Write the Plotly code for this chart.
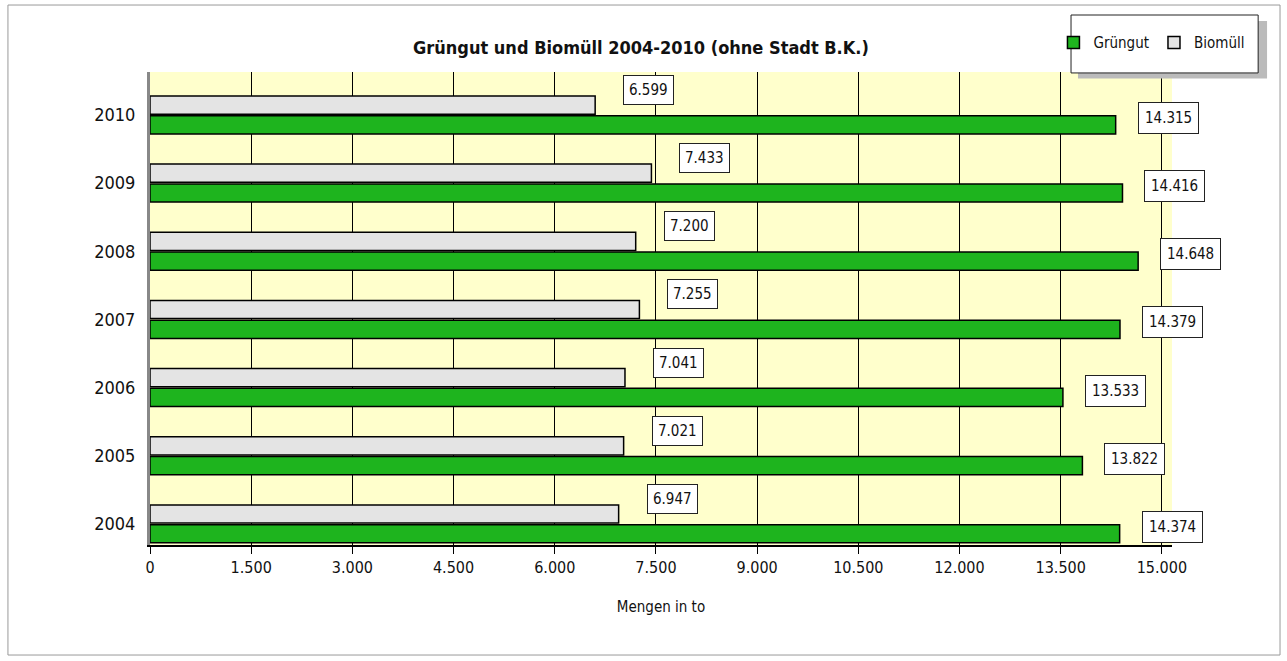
import plotly.graph_objects as go

years = ["2004", "2005", "2006", "2007", "2008", "2009", "2010"]
gruengut = [14374, 13822, 13533, 14379, 14648, 14416, 14315]
biomuell = [6947, 7021, 7041, 7255, 7200, 7433, 6599]
x_ticks = [0, 1500, 3000, 4500, 6000, 7500, 9000, 10500, 12000, 13500, 15000]

FONT = "DejaVu Sans Condensed, Liberation Sans Narrow, Roboto, sans-serif"


def fmt(v):
    return f"{v:,}".replace(",", ".")


fig = go.Figure()
fig.add_trace(go.Bar(
    y=years, x=gruengut, orientation="h", name="Grüngut",
    marker=dict(color="#1EB41E", line=dict(color="#000000", width=1.5)),
))
fig.add_trace(go.Bar(
    y=years, x=biomuell, orientation="h", name="Biomüll",
    marker=dict(color="#E4E4E4", line=dict(color="#000000", width=1.5)),
))

annotations = []
for i, (g, b) in enumerate(zip(gruengut, biomuell)):
    annotations.append(dict(
        x=b, y=i, xref="x", yref="y", text=fmt(b), showarrow=False,
        xanchor="left", yanchor="middle", xshift=28, yshift=25,
        bgcolor="white", bordercolor="#222222", borderwidth=1, borderpad=5,
        font=dict(family=FONT, size=15, color="#111111"),
    ))
    annotations.append(dict(
        x=g, y=i, xref="x", yref="y", text=fmt(g), showarrow=False,
        xanchor="left", yanchor="middle", xshift=22, yshift=-3,
        bgcolor="white", bordercolor="#222222", borderwidth=1, borderpad=6,
        font=dict(family=FONT, size=15, color="#111111"),
    ))

annotations.append(dict(
    text="<b>Grüngut und Biomüll 2004-2010 (ohne Stadt B.K.)</b>",
    xref="paper", yref="paper", x=0.48, y=1.052, showarrow=False,
    xanchor="center", yanchor="middle",
    font=dict(family=FONT, size=18, color="#111111"),
))

fig.update_layout(
    width=1287, height=661,
    margin=dict(l=150, r=115, t=72, b=116, autoexpand=False),
    paper_bgcolor="white", plot_bgcolor="#FFFFCC",
    separators=",.",
    barmode="group", bargap=0.42, bargroupgap=0.08,
    font=dict(family=FONT, size=15, color="#111111"),
    annotations=annotations,
    legend=dict(
        orientation="h", x=0.884, y=1.062, xanchor="left", yanchor="middle",
        bgcolor="rgba(0,0,0,0)", borderwidth=0, itemwidth=30,
        font=dict(family=FONT, size=15, color="#111111"),
        traceorder="normal",
    ),
    xaxis=dict(
        range=[0, 15150], tickvals=x_ticks, tickformat=",.0f",
        showgrid=True, gridcolor="#000000", gridwidth=1,
        showline=True, linecolor="#000000", linewidth=1.5,
        ticks="outside", ticklen=7, tickcolor="#000000",
        zeroline=False,
        title=dict(text="Mengen in to", font=dict(family=FONT, size=15), standoff=26),
        tickfont=dict(family=FONT, size=16),
    ),
    yaxis=dict(
        type="category", categoryorder="array", categoryarray=years,
        range=[-0.31, 6.63],
        showgrid=False, showline=True, linecolor="#888888", linewidth=3,
        ticks="", tickfont=dict(family=FONT, size=18),
        ticklabelstandoff=8,
    ),
    shapes=[
        # outer frame
        dict(type="rect", xref="paper", yref="paper", x0=-0.139, x1=1.1057,
             y0=-0.2326, y1=1.1416, line=dict(color="#999999", width=1),
             fillcolor="rgba(0,0,0,0)", layer="below"),
        # legend shadow and box
        dict(type="rect", xref="paper", yref="paper", x0=0.9080, x1=1.0930,
             y0=0.986, y1=1.108, line=dict(width=0), fillcolor="#BBBBBB"),
        dict(type="rect", xref="paper", yref="paper", x0=0.9012, x1=1.0843,
             y0=0.998, y1=1.1205, line=dict(color="#222222", width=1),
             fillcolor="white"),
    ],
)

fig.write_html("out.html")
